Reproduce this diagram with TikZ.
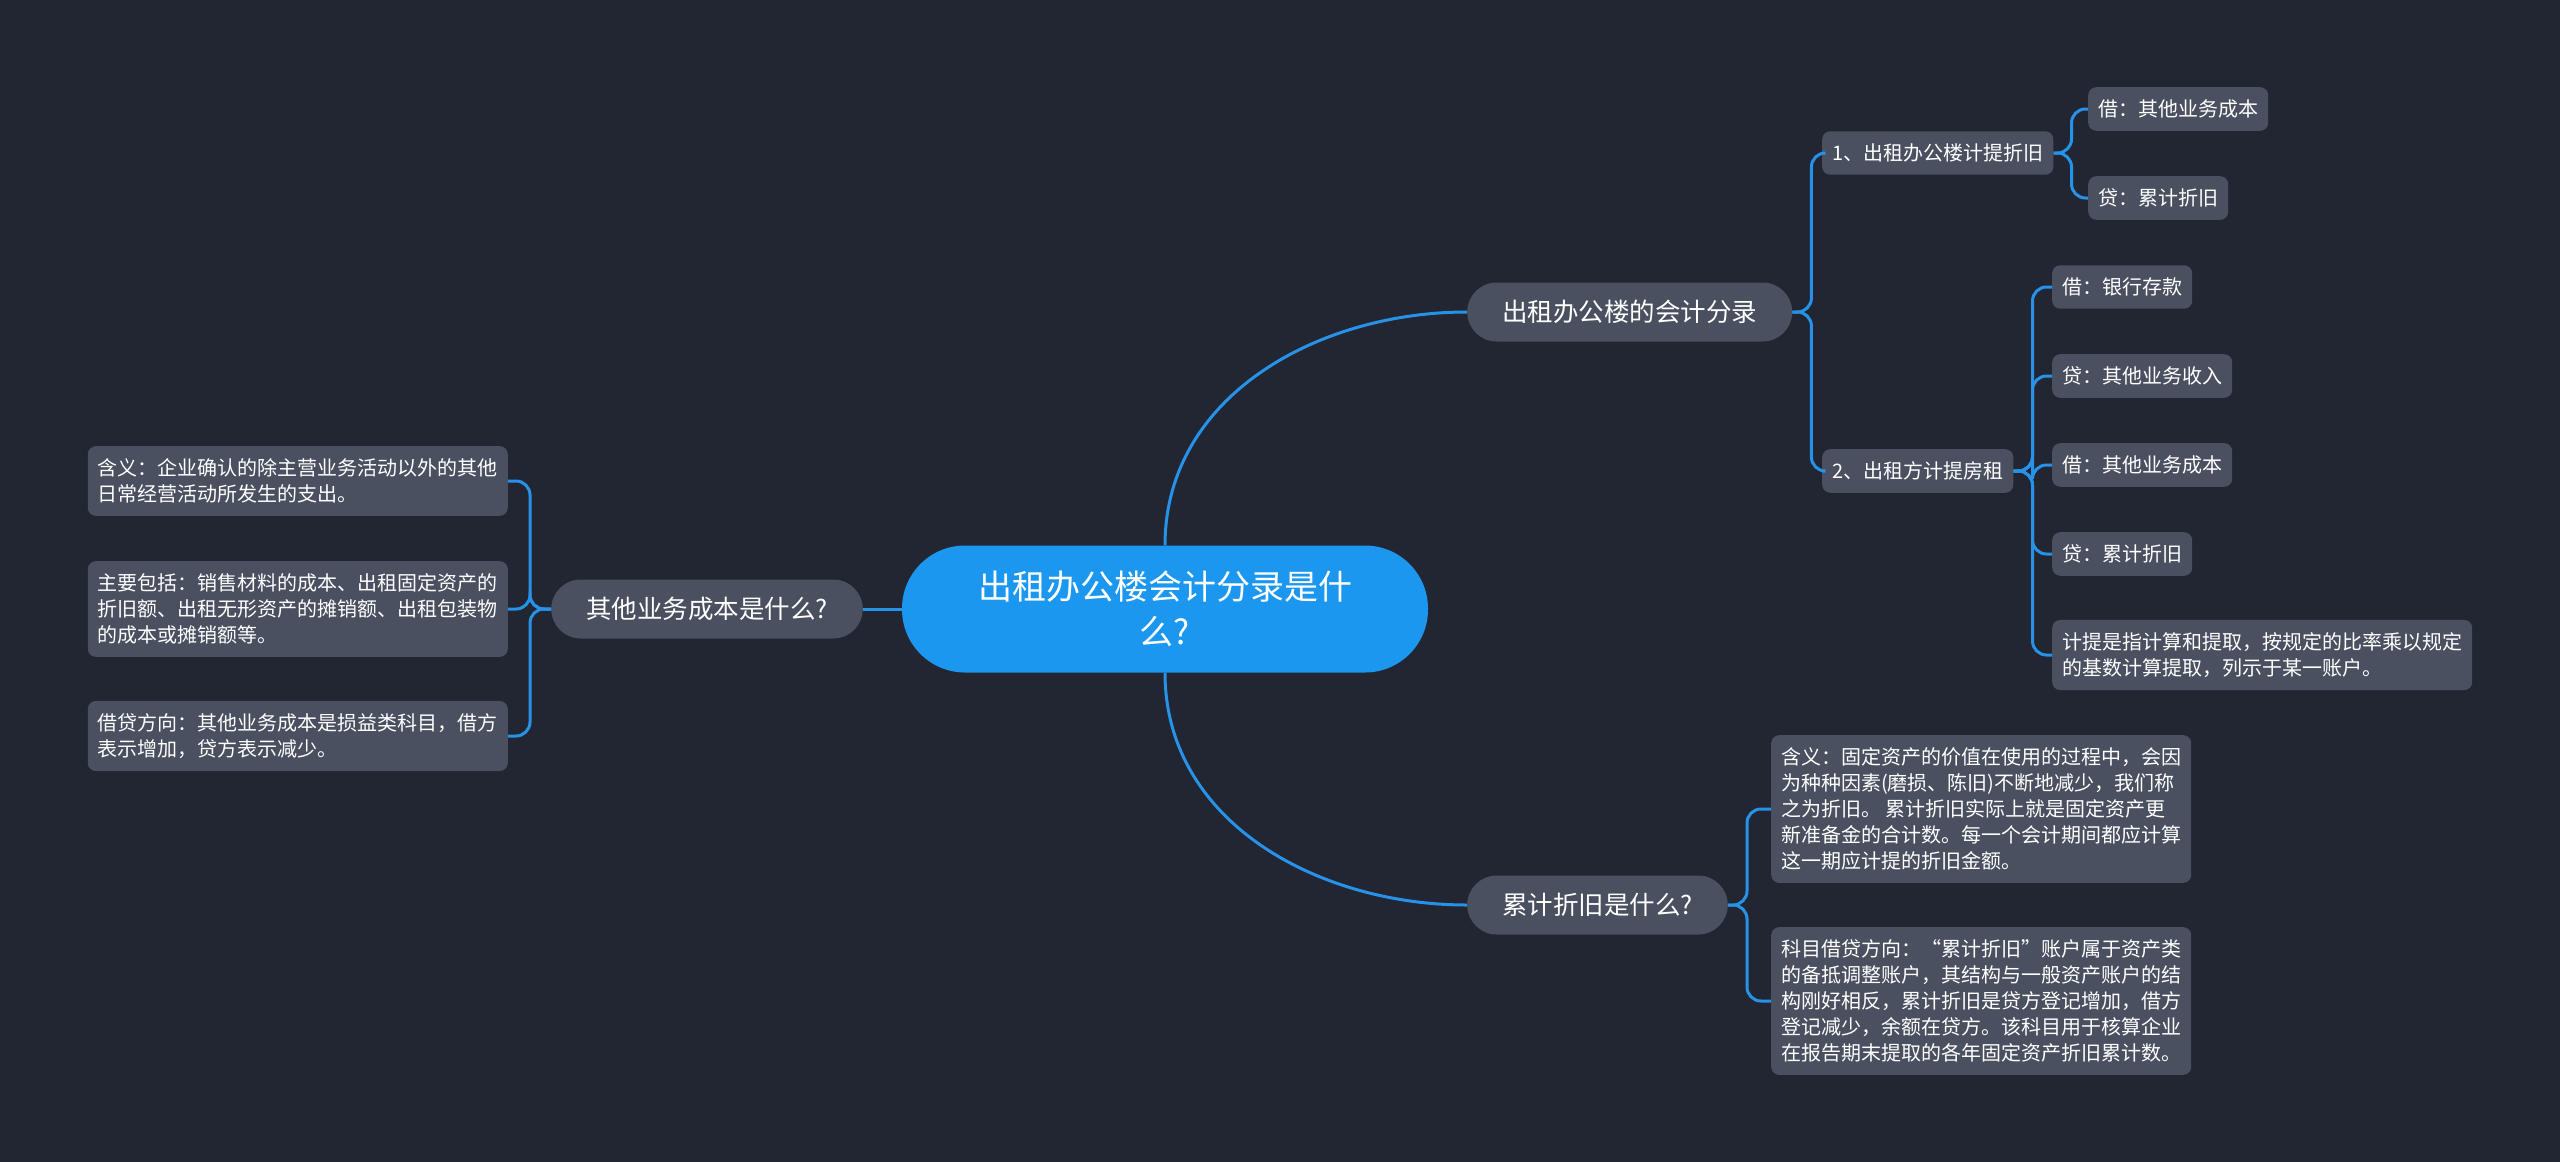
\documentclass[tikz,border=0pt]{standalone}
\usepackage{fontspec}
\usepackage{tikz}
\newfontfamily\cjk{Noto Sans CJK SC}
\definecolor{bgdark}{RGB}{34,38,50}
\definecolor{boxgrey}{RGB}{74,80,96}
\definecolor{rootblue}{RGB}{28,151,240}
\definecolor{linkblue}{RGB}{38,146,232}
\newcommand{\twig}[3]{
  \draw[link,rounded corners=14pt] (#2.west) -| ([xshift=#3]#1.east)
    [sharp corners] -- (#1.east);
}
\newcommand{\twigleft}[3]{
  \draw[link,rounded corners=14pt] (#2.east) -| ([xshift=-#3]#1.west)
    [sharp corners] -- (#1.west);
}
\tikzset{
  link/.style    = {draw=linkblue, line width=3pt},
  rootnode/.style = {fill=rootblue, text=white, align=center,
                     font=\cjk\fontsize{34}{45}\selectfont,
                     minimum height=127pt, inner xsep=76pt,
                     rounded corners=63pt},
  topic/.style   = {fill=boxgrey, text=white,
                    font=\cjk\fontsize{25.5}{30}\selectfont,
                    minimum height=59pt, inner xsep=35pt,
                    rounded corners=29.5pt},
  leaf/.style    = {fill=boxgrey, text=white, align=left,
                    font=\cjk\fontsize{20}{26}\selectfont,
                    inner xsep=10pt, inner ysep=12.5pt,
                    rounded corners=8pt}
}

\begin{document}
\begin{tikzpicture}[x=1pt,y=-1pt]
	\useasboundingbox (0,0) rectangle (2560,1162);
	\fill[bgdark] (0,0) rectangle (2560,1162);
	\node[rootnode] (root) at (1165,609) {出租办公楼会计分录是什\\么?};
	\node[topic,anchor=west] (acct) at (1467,312) {出租办公楼的会计分录};
	\node[topic,anchor=east] (other) at (863,609) {其他业务成本是什么?};
	\node[topic,anchor=west] (dep) at (1467,905) {累计折旧是什么?};
	\node[leaf,anchor=west] (a1) at (1822,153) {1、出租办公楼计提折旧};
	\node[leaf,anchor=west] (a1x) at (2088,109) {借：其他业务成本};
	\node[leaf,anchor=west] (a1y) at (2088,198) {贷：累计折旧};
	\node[leaf,anchor=west] (a2) at (1822,471) {2、出租方计提房租};
	\node[leaf,anchor=west] (a2a) at (2052,287) {借：银行存款};
	\node[leaf,anchor=west] (a2b) at (2052,376) {贷：其他业务收入};
	\node[leaf,anchor=west] (a2c) at (2052,465) {借：其他业务成本};
	\node[leaf,anchor=west] (a2d) at (2052,554) {贷：累计折旧};
	\node[leaf,anchor=west] (a2e) at (2052,655) {计提是指计算和提取，按规定的比率乘以规定\\的基数计算提取，列示于某一账户。};
	\node[leaf,anchor=east] (o1) at (508,481) {含义：企业确认的除主营业务活动以外的其他\\日常经营活动所发生的支出。};
	\node[leaf,anchor=east] (o2) at (508,609) {主要包括：销售材料的成本、出租固定资产的\\折旧额、出租无形资产的摊销额、出租包装物\\的成本或摊销额等。};
	\node[leaf,anchor=east] (o3) at (508,736) {借贷方向：其他业务成本是损益类科目，借方\\表示增加，贷方表示减少。};
	\node[leaf,anchor=west] (d1) at (1771,809) {含义：固定资产的价值在使用的过程中，会因\\为种种因素(磨损、陈旧)不断地减少，我们称\\之为折旧。 累计折旧实际上就是固定资产更\\新准备金的合计数。每一个会计期间都应计算\\这一期应计提的折旧金额。};
	\node[leaf,anchor=west] (d2) at (1771,1001) {科目借贷方向：“累计折旧”账户属于资产类\\的备抵调整账户，其结构与一般资产账户的结\\构刚好相反，累计折旧是贷方登记增加，借方\\登记减少，余额在贷方。该科目用于核算企业\\在报告期末提取的各年固定资产折旧累计数。};
	\draw[link] (root.north) to[out=90,in=180] (acct.west);
	\draw[link] (root.south) to[out=-90,in=180] (dep.west);
	\draw[link] (root.west) -- (other.east);
	\twig{acct}{a1}{19pt}
	\twig{acct}{a2}{19pt}
	\twig{a1}{a1x}{18pt}
	\twig{a1}{a1y}{18pt}
	\twig{a2}{a2a}{19pt}
	\twig{a2}{a2b}{19pt}
	\twig{a2}{a2c}{19pt}
	\twig{a2}{a2d}{19pt}
	\twig{a2}{a2e}{19pt}
	\twig{dep}{d1}{19pt}
	\twig{dep}{d2}{19pt}
	\twigleft{other}{o1}{21pt}
	\twigleft{other}{o2}{21pt}
	\twigleft{other}{o3}{21pt}
\end{tikzpicture}
\end{document}
